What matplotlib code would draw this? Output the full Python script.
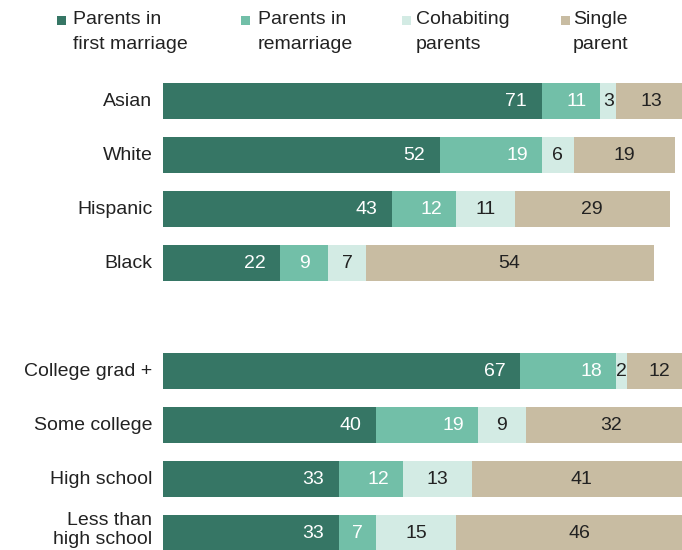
import matplotlib
matplotlib.use("Agg")
import matplotlib.pyplot as plt
from matplotlib.patches import Rectangle

plt.rcParams['font.family'] = ['Liberation Sans', 'DejaVu Sans']

categories = ["Asian", "White", "Hispanic", "Black", "",
              "College grad +", "Some college", "High school", "Less than\nhigh school"]
first_marriage = [71, 52, 43, 22, None, 67, 40, 33, 33]
remarriage = [11, 19, 12, 9, None, 18, 19, 12, 7]
cohabiting = [3, 6, 11, 7, None, 2, 9, 13, 15]
single = [13, 19, 29, 54, None, 12, 32, 41, 46]
series_names = ["Parents in\nfirst marriage", "Parents in\nremarriage", "Cohabiting\nparents", "Single\nparent"]

colors = ["#367665", "#72bfa8", "#d3ebe4", "#c8bca2"]
text_colors = ["white", "white", "#222222", "#222222"]

W, H = 682, 550
fig = plt.figure(figsize=(W/100, H/100), dpi=100)
ax_left = 163 / W
ax = fig.add_axes([ax_left, 0, 1 - ax_left, 1])
px_per_unit = 5.333
ax.set_xlim(0, (W - 163) / px_per_unit)
row0, step = 101, 54
ax.set_ylim((H - row0) / step, -row0 / step)
ax.axis('off')

series = [first_marriage, remarriage, cohabiting, single]
fs = 14
for i, cat in enumerate(categories):
    if first_marriage[i] is None:
        continue
    left = 0
    for s, vals in enumerate(series):
        v = vals[i]
        ax.barh(i, v, left=left, height=0.67, color=colors[s], linewidth=0, clip_on=True)
        if s == 0:
            ax.text(left + v - 2.8, i, str(v), ha='right', va='center', color=text_colors[s], fontsize=fs)
        elif s == 1:
            if v >= 10:
                ax.text(left + v - 2.6, i, str(v), ha='right', va='center', color=text_colors[s], fontsize=fs)
            else:
                ax.text(left + v / 2, i, str(v), ha='center', va='center', color=text_colors[s], fontsize=fs)
        else:
            ax.text(left + v / 2, i, str(v), ha='center', va='center', color=text_colors[s], fontsize=fs)
        left += v
    y = i - 0.06 if "\n" in cat else i
    ax.text(-2.0, y, cat, ha='right', va='center', color='#222222', fontsize=fs,
            multialignment='right', linespacing=1.15)

# Legend
sq_x = [57, 241, 402, 561]
tx_x = [73, 258, 416, 573]
for s in range(4):
    fig.patches.append(Rectangle((sq_x[s] / W, 1 - 25 / H), 9 / W, 9 / H,
                                 transform=fig.transFigure, color=colors[s], linewidth=0))
    fig.text(tx_x[s] / W, 1 - 11 / H, series_names[s], ha='left', va='top',
             fontsize=fs, color='#222222', linespacing=1.6)

fig.savefig("out.png", dpi=100)
